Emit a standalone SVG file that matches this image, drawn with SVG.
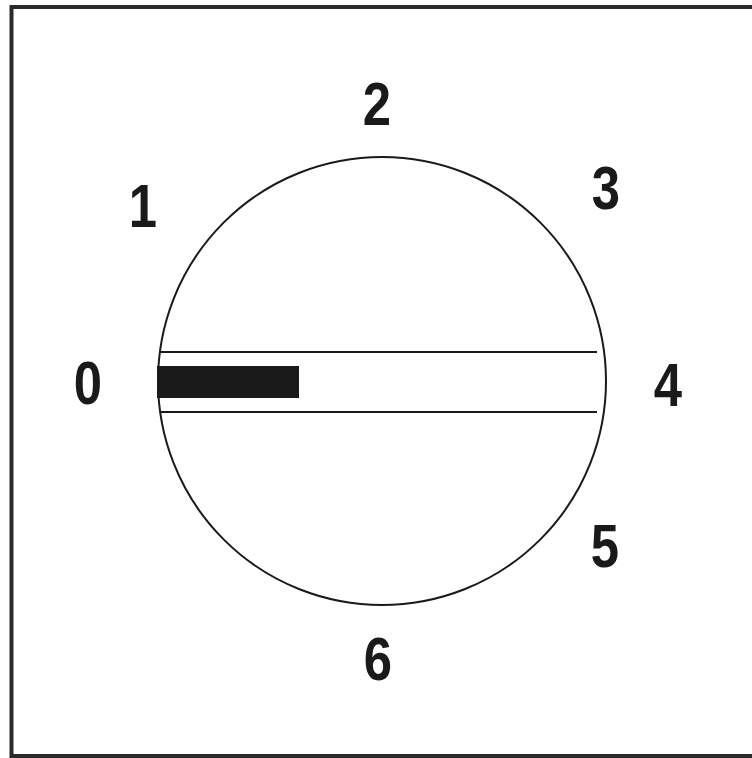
<svg xmlns="http://www.w3.org/2000/svg" width="752" height="758" viewBox="0 0 752 758">
<style>
.num{font-family:"Liberation Sans",Arial,sans-serif;font-weight:bold;font-size:62px;fill:#1a1a1a;text-anchor:middle}
.ln{stroke:#1a1a1a;stroke-width:2;fill:none}
</style>
<rect x="0" y="0" width="752" height="758" fill="#fff"/>
<rect x="11.5" y="7" width="760" height="749" fill="none" stroke="#2a2a2a" stroke-width="4"/>
<g id="dial">
<circle cx="382" cy="381" r="224" class="ln"/>
<line x1="160" y1="352" x2="597" y2="352" class="ln"/>
<line x1="160" y1="412" x2="597" y2="412" class="ln"/>
<rect x="157" y="366" width="142" height="32" fill="#1a1a1a"/>
</g>
<g id="labels">
<text class="num" transform="translate(88,404) scale(0.82,1)">0</text>
<text class="num" transform="translate(143,227) scale(0.82,1)">1</text>
<text class="num" transform="translate(377,125) scale(0.82,1)">2</text>
<text class="num" transform="translate(606,209) scale(0.82,1)">3</text>
<text class="num" transform="translate(668,406) scale(0.82,1)">4</text>
<text class="num" transform="translate(605,567) scale(0.82,1)">5</text>
<text class="num" transform="translate(378,680) scale(0.82,1)">6</text>
</g>
</svg>
